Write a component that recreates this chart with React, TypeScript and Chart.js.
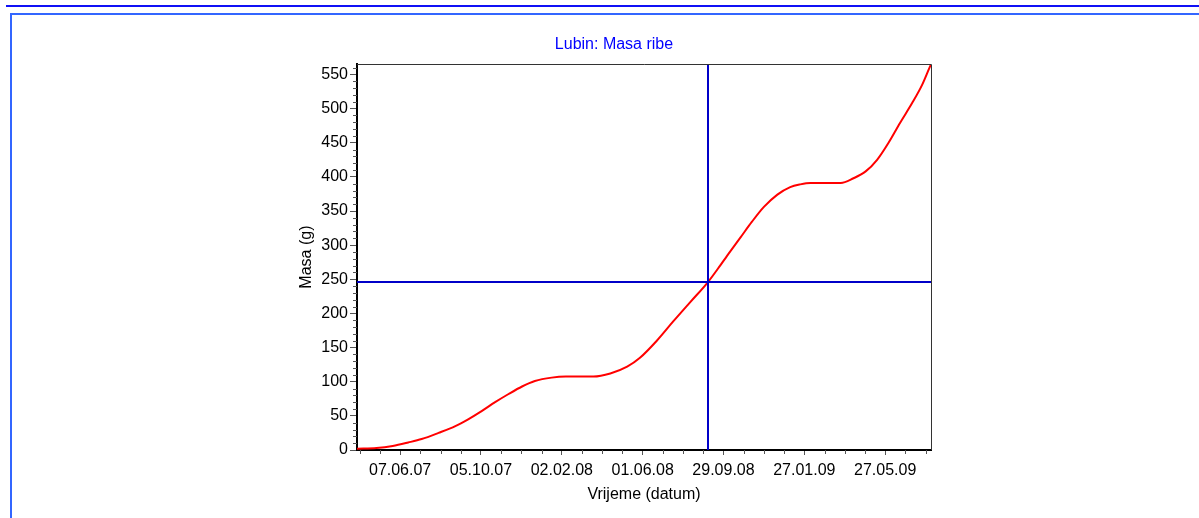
import { useEffect, useRef } from "react";
import { Chart, registerables } from "chart.js";

Chart.register(...registerables);

const chartTitle = "Lubin: Masa ribe";
const xAxisTitle = "Vrijeme (datum)";
const yAxisTitle = "Masa (g)";

// time axis: days counted from this date (dd.mm.yy)
const startDate = "04.04.07";
const endDay = 852;

const dayOffsets = [
  0, 29, 53, 76, 96, 121, 146, 165, 185, 205, 225, 245, 264, 289, 310, 351, 376,
  401, 420, 445, 470, 495, 521, 539, 549, 569, 586, 604, 624, 643, 658, 673, 718,
  737, 755, 772, 789, 806, 824, 839, 849, 852,
];
const massValues = [
  2, 3, 6, 11, 16, 25, 35, 45, 57, 70, 82, 93, 101, 106, 107.5, 107.5, 112, 122,
  135, 160, 189, 217, 246, 270, 284, 311, 334, 356, 374, 385, 389, 391, 391, 398,
  408, 425, 450, 479, 508, 535, 558, 565,
];

const xTickLabels = [
  "07.06.07",
  "05.10.07",
  "02.02.08",
  "01.06.08",
  "29.09.08",
  "27.01.09",
  "27.05.09",
];
const yTickValues = [0, 50, 100, 150, 200, 250, 300, 350, 400, 450, 500, 550];
const yMax = 565;
const xMinorStepDays = 30;
const yMinorStep = 10;

const crosshairDay = 521;
const crosshairMass = 246;

const parseDate = (s: string) => {
  const [d, m, y] = s.split(".").map(Number);
  return Date.UTC(2000 + y, m - 1, d);
};
const dayOf = (s: string) =>
  Math.round((parseDate(s) - parseDate(startDate)) / 86400000);

const FONT = "'Liberation Sans', Arial, sans-serif";

const frameAndMinorTicks = {
  id: "frameAndMinorTicks",
  afterDraw(chart: any) {
    const { ctx, chartArea, scales } = chart;
    const xs = scales.x;
    const ys = scales.y;
    ctx.save();
    // top and right frame
    ctx.strokeStyle = "#333333";
    ctx.lineWidth = 1;
    ctx.beginPath();
    ctx.moveTo(Math.round(chartArea.left), Math.round(chartArea.top) + 0.5);
    ctx.lineTo(Math.round(chartArea.right) + 0.5, Math.round(chartArea.top) + 0.5);
    ctx.lineTo(Math.round(chartArea.right) + 0.5, Math.round(chartArea.bottom));
    ctx.stroke();
    // minor ticks
    ctx.strokeStyle = "#555555";
    ctx.beginPath();
    for (let v = yMinorStep; v <= yMax; v += yMinorStep) {
      if (yTickValues.includes(v)) continue;
      const py = Math.round(ys.getPixelForValue(v)) + 0.5;
      ctx.moveTo(chartArea.left - 4, py);
      ctx.lineTo(chartArea.left, py);
    }
    const majors = xTickLabels.map(dayOf);
    const first = majors[0];
    const minors: number[] = [];
    for (let v = first - xMinorStepDays; v >= 0; v -= xMinorStepDays) minors.push(v);
    for (let v = first; v <= endDay; v += xMinorStepDays) {
      if (!majors.some((m) => Math.abs(m - v) < 3)) minors.push(v);
    }
    minors.forEach((v) => {
      const px = Math.round(xs.getPixelForValue(v)) + 0.5;
      ctx.moveTo(px, chartArea.bottom);
      ctx.lineTo(px, chartArea.bottom + 4);
    });
    ctx.stroke();
    ctx.restore();
  },
};

export default function App() {
  const canvasRef = useRef<HTMLCanvasElement | null>(null);

  useEffect(() => {
    if (!canvasRef.current) return;
    const chart = new Chart(canvasRef.current, {
      type: "line",
      data: {
        datasets: [
          {
            label: "Masa",
            data: dayOffsets.map((d, i) => ({ x: d, y: massValues[i] })),
            borderColor: "#FF0000",
            borderWidth: 2,
            pointRadius: 0,
            cubicInterpolationMode: "monotone",
            fill: false,
            order: 2,
          },
          {
            label: "h",
            data: [
              { x: 0, y: crosshairMass },
              { x: endDay, y: crosshairMass },
            ],
            borderColor: "#0000C8",
            borderWidth: 2,
            pointRadius: 0,
            order: 1,
          },
          {
            label: "v",
            data: [
              { x: crosshairDay, y: 0 },
              { x: crosshairDay, y: yMax },
            ],
            borderColor: "#0000C8",
            borderWidth: 2,
            pointRadius: 0,
            order: 1,
          },
        ],
      },
      options: {
        responsive: false,
        animation: false,
        layout: { padding: { left: 297, right: 268, top: 35, bottom: 14 } },
        plugins: {
          legend: { display: false },
          tooltip: { enabled: false },
          title: {
            display: true,
            text: chartTitle,
            color: "#0000FF",
            font: { family: FONT, size: 16, weight: "normal" },
            padding: { top: 0, bottom: 10 },
          },
        },
        scales: {
          x: {
            type: "linear",
            min: 0,
            max: endDay,
            afterBuildTicks: (scale: any) => {
              scale.ticks = xTickLabels.map((l) => ({ value: dayOf(l) }));
            },
            afterFit: (scale: any) => {
              scale.height = 54;
            },
            ticks: {
              callback: (_v: any, i: number) => xTickLabels[i],
              color: "#000000",
              font: { family: FONT, size: 16 },
              padding: 6,
              maxRotation: 0,
              autoSkip: false,
            },
            grid: {
              display: true,
              drawOnChartArea: false,
              drawTicks: true,
              tickLength: 5,
              tickColor: "#555555",
              tickWidth: 1,
            },
            border: { display: true, color: "#000000", width: 2 },
            title: {
              display: true,
              text: xAxisTitle,
              color: "#000000",
              font: { family: FONT, size: 16 },
              padding: { top: 0, bottom: 0 },
            },
          },
          y: {
            type: "linear",
            min: 0,
            max: yMax,
            afterBuildTicks: (scale: any) => {
              scale.ticks = yTickValues.map((v) => ({ value: v }));
            },
            afterFit: (scale: any) => {
              scale.width = 60;
            },
            ticks: {
              color: "#000000",
              font: { family: FONT, size: 16 },
              padding: 2,
            },
            grid: {
              display: true,
              drawOnChartArea: false,
              drawTicks: true,
              tickLength: 7,
              tickColor: "#555555",
              tickWidth: 1,
            },
            border: { display: true, color: "#000000", width: 2 },
            title: {
              display: true,
              text: yAxisTitle,
              color: "#000000",
              font: { family: FONT, size: 16 },
              padding: { top: 0, bottom: 0 },
            },
          },
        },
      } as any,
      plugins: [frameAndMinorTicks],
    });
    return () => chart.destroy();
  }, []);

  return (
    <div
      style={{
        position: "absolute",
        left: 0,
        top: 0,
        width: 1199,
        height: 518,
        overflow: "hidden",
        background: "#FFFFFF",
      }}
    >
      <div
        style={{
          position: "absolute",
          left: 6,
          top: 5,
          width: 1199,
          height: 2,
          background: "#1010F5",
        }}
      />
      <div
        style={{
          position: "absolute",
          left: 10,
          top: 13,
          width: 1300,
          height: 600,
          borderTop: "2px solid #3366FF",
          borderLeft: "2px solid #3366FF",
        }}
      />
      <canvas
        ref={canvasRef}
        width={1199}
        height={518}
        style={{ position: "absolute", left: 0, top: 0, width: 1199, height: 518 }}
      />
    </div>
  );
}
